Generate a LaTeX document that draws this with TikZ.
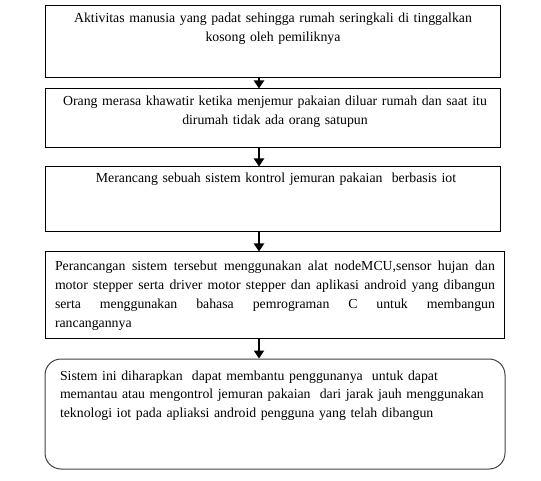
\documentclass[tikz,border=0pt]{standalone}
\usepackage{fontspec}
\setmainfont{Liberation Serif}
\usetikzlibrary{arrows.meta}
\begin{document}
\begin{tikzpicture}[x=1pt,y=-1pt,
  stepbox/.style={draw=black, line width=1pt, rectangle, inner sep=0pt},
  roundbox/.style={draw=black!75, line width=1pt, rectangle, rounded corners=16pt, inner sep=0pt},
  txt/.style={anchor=base, inner sep=0pt, font=\fontsize{13.8}{18.7}\selectfont},
  arr/.style={line width=2.6pt, -{Triangle[length=8pt,width=10pt]}}]
\useasboundingbox (0,0) rectangle (541,481);
\coordinate (ax) at (259,0);
\node[stepbox, minimum width=455pt, minimum height=72pt] (b1) at (272.5,42) {};
\node[stepbox, minimum width=455pt, minimum height=59pt] (b2) at (272.5,118.5) {};
\node[stepbox, minimum width=455pt, minimum height=65pt] (b3) at (272.5,199.5) {};
\node[stepbox, minimum width=459pt, minimum height=86pt] (b4) at (274.5,295) {};
\node[roundbox, minimum width=460pt, minimum height=110pt] (b5) at (275,414) {};
\node[txt, text width=450pt, align=center] (t1) at (273,23)
  {Aktivitas manusia yang padat sehingga rumah seringkali di tinggalkan\\kosong oleh pemiliknya};
\node[txt, text width=450pt, align=center] (t2) at (275,106)
  {Orang merasa khawatir ketika menjemur pakaian diluar rumah dan saat itu\\dirumah tidak ada orang satupun};
\node[txt, text width=450pt, align=center] (t3) at (276,183)
  {Merancang sebuah sistem kontrol jemuran pakaian\ \ berbasis iot};
\node[txt, text width=440pt, align=justify] (t4) at (275,271)
  {Perancangan sistem tersebut menggunakan alat nodeMCU,sensor hujan dan\linebreak
   motor stepper serta driver motor stepper dan aplikasi android yang dibangun\linebreak
   serta menggunakan bahasa pemrograman C untuk membangun\linebreak
   rancangannya};
\node[txt, text width=440pt, align=left] (t5) at (280,380)
  {Sistem ini diharapkan\ \ dapat membantu penggunanya\ \ untuk dapat\\
   memantau atau mengontrol jemuran pakaian\ \ dari jarak jauh menggunakan\\
   teknologi iot pada apliaksi android pengguna yang telah dibangun};
\draw[arr] (b1.south -| ax) -- (b2.north -| ax);
\draw[arr] (b2.south -| ax) -- (b3.north -| ax);
\draw[arr] (b3.south -| ax) -- (b4.north -| ax);
\draw[arr] (b4.south -| ax) -- (b5.north -| ax);
\end{tikzpicture}
\end{document}
